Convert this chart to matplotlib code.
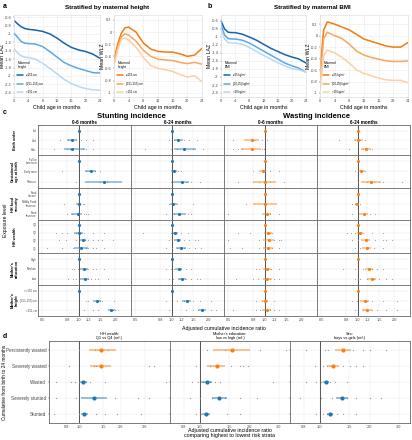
import matplotlib
matplotlib.use("Agg")
import matplotlib.pyplot as plt
from matplotlib.ticker import NullLocator

plt.rcParams['font.family'] = ['Liberation Sans', 'DejaVu Sans']

# ---- panel a/b: mean growth curves -------------------------------------
ages = [0, 1, 2, 3, 4, 6, 8, 10, 12, 14, 16, 18, 20, 22, 24]

height_labels = ['\u2265155 cm', '[151-155) cm', '<151 cm']
laz_height_tall = [-0.68, -0.76, -0.83, -0.87, -0.89, -0.91, -0.94, -1.0, -1.1, -1.22, -1.32, -1.38, -1.42, -1.48, -1.58]
laz_height_mid = [-0.98, -1.08, -1.18, -1.22, -1.23, -1.24, -1.3, -1.42, -1.55, -1.68, -1.76, -1.82, -1.87, -1.92, -1.93]
laz_height_short = [-1.35, -1.45, -1.52, -1.55, -1.56, -1.6, -1.7, -1.82, -1.95, -2.08, -2.18, -2.25, -2.3, -2.33, -2.34]
wlz_height_tall = [-0.45, -0.2, -0.02, 0.07, 0.08, 0.0, -0.18, -0.28, -0.32, -0.33, -0.33, -0.36, -0.4, -0.38, -0.27]
wlz_height_mid = [-0.5, -0.25, -0.08, -0.03, -0.05, -0.15, -0.3, -0.4, -0.45, -0.46, -0.47, -0.5, -0.52, -0.5, -0.53]
wlz_height_short = [-0.55, -0.3, -0.12, -0.1, -0.13, -0.25, -0.42, -0.55, -0.6, -0.62, -0.65, -0.7, -0.74, -0.72, -0.82]

bmi_labels = ['\u226525 kg/m\u00b2', '[20-25) kg/m\u00b2', '<20 kg/m\u00b2']
laz_bmi_hi = [-0.6, -0.8, -0.88, -0.89, -0.89, -0.93, -1.0, -1.08, -1.18, -1.28, -1.36, -1.44, -1.5, -1.55, -1.65]
laz_bmi_mid = [-0.7, -0.95, -1.04, -1.05, -1.05, -1.08, -1.15, -1.25, -1.35, -1.45, -1.55, -1.65, -1.72, -1.78, -1.88]
laz_bmi_lo = [-0.8, -1.05, -1.14, -1.15, -1.15, -1.18, -1.26, -1.36, -1.46, -1.55, -1.64, -1.72, -1.79, -1.82, -1.88]
wlz_bmi_hi = [-0.6, 0.1, 0.24, 0.22, 0.2, 0.15, 0.1, 0.02, -0.06, -0.1, -0.14, -0.18, -0.2, -0.2, -0.12]
wlz_bmi_mid = [-0.75, -0.05, 0.06, 0.03, 0.0, -0.05, -0.15, -0.27, -0.34, -0.38, -0.41, -0.44, -0.45, -0.45, -0.44]
wlz_bmi_lo = [-0.95, -0.35, -0.25, -0.28, -0.3, -0.38, -0.48, -0.6, -0.66, -0.7, -0.74, -0.77, -0.78, -0.78, -0.82]

# ---- panel c: exposure -> incidence ratios -------------------------------
group_names = ['Birth order', 'Gestational\nage at birth', 'HH food\nsecurity', 'HH wealth',
               "Mother's\neducation", "Mother's\nheight"]
group_levels = [['1st', '2nd', '3rd+'],
                ['Full or\nlate term', 'Early term', 'Preterm'],
                ['Food\nSecure', 'Mildly Food\nInsecure', 'Food\nInsecure'],
                ['Q4', 'Q3', 'Q2', 'Q1'],
                ['High', 'Medium', 'Low'],
                ['>=155 cm', '[151-155) cm', '<151 cm']]
column_titles = ['0-6 months', '6-24 months', '0-6 months', '6-24 months']
column_outcomes = ['Stunting', 'Stunting', 'Wasting', 'Wasting']

stunt06_est = [1.0, 0.88, 0.88, 1.0, 1.26, 1.62, 1.0, 1.0, 0.98, 1.0, 1.0, 1.08, 1.05, 1.0, 1.1, 1.12, 1.0, 1.41, 1.85]
stunt06_lo = [1.0, 0.8, 0.76, 1.0, 1.12, 1.12, 1.0, 0.95, 0.86, 1.0, 0.92, 1.0, 0.92, 1.0, 1.02, 1.02, 1.0, 1.31, 1.75]
stunt06_hi = [1.0, 0.97, 1.12, 1.0, 1.39, 2.29, 1.0, 1.05, 1.07, 1.0, 1.08, 1.15, 1.2, 1.0, 1.18, 1.22, 1.0, 1.53, 2.0]
stunt624_est = [1.0, 1.12, 1.26, 1.0, 1.04, 1.21, 1.0, 1.03, 1.15, 1.0, 1.06, 1.12, 1.18, 1.0, 1.14, 1.22, 1.0, 1.33, 1.78]
stunt624_lo = [1.0, 1.04, 1.04, 1.0, 0.98, 1.02, 1.0, 0.97, 1.0, 1.0, 1.0, 1.04, 1.08, 1.0, 1.06, 1.12, 1.0, 1.22, 1.65]
stunt624_hi = [1.0, 1.23, 1.58, 1.0, 1.1, 1.39, 1.0, 1.1, 1.3, 1.0, 1.12, 1.2, 1.3, 1.0, 1.22, 1.32, 1.0, 1.45, 1.92]
waste06_est = [1.0, 0.78, 0.78, 1.0, 0.96, 1.0, 1.0, 1.0, 1.04, 1.0, 1.06, 1.08, 1.06, 1.0, 1.05, 1.05, 1.0, 1.0, 1.04]
waste06_lo = [1.0, 0.67, 0.63, 1.0, 0.9, 0.8, 1.0, 0.8, 0.95, 1.0, 0.98, 0.97, 0.96, 1.0, 0.97, 0.96, 1.0, 0.94, 0.95]
waste06_hi = [1.0, 0.89, 0.93, 1.0, 1.03, 1.23, 1.0, 1.26, 1.12, 1.0, 1.15, 1.2, 1.17, 1.0, 1.13, 1.15, 1.0, 1.06, 1.13]
waste624_est = [1.0, 1.0, 1.17, 1.0, 1.06, 1.28, 1.0, 0.98, 1.12, 1.0, 1.04, 1.16, 1.18, 1.0, 1.24, 1.3, 1.0, 1.14, 1.19]
waste624_lo = [1.0, 0.93, 1.06, 1.0, 1.0, 1.06, 1.0, 0.95, 1.02, 1.0, 0.98, 1.06, 1.08, 1.0, 1.14, 1.18, 1.0, 1.05, 1.08]
waste624_hi = [1.0, 1.1, 1.28, 1.0, 1.14, 1.55, 1.0, 1.02, 1.22, 1.0, 1.1, 1.26, 1.28, 1.0, 1.34, 1.42, 1.0, 1.24, 1.3]

# cohort-specific estimates (grey points), one list per exposure level
stunt06_cohorts = [[], [0.7, 0.82, 0.86, 0.95, 1.05, 1.15, 1.3], [0.62, 0.8, 0.85, 1.08, 1.15, 1.3],
                   [], [0.72, 1.15, 1.22, 1.35, 1.5], [0.95, 1.5, 1.7],
                   [], [0.75, 1.02, 1.08, 1.1], [0.8, 0.88, 1.1, 1.15, 1.2],
                   [], [0.65, 0.72, 0.8, 0.95, 1.05, 1.1, 1.3, 1.6], [0.68, 0.78, 0.95, 1.12, 1.2, 1.3, 1.45, 1.55, 1.9],
                   [0.55, 0.72, 0.9, 1.0, 1.15, 1.2, 1.3, 1.4, 1.6],
                   [], [0.88, 0.92, 0.98, 1.15, 1.2, 1.3, 1.4, 1.6], [0.82, 0.9, 0.95, 1.18, 1.25, 1.35, 1.45, 1.75],
                   [], [1.15, 1.2, 1.5, 1.55, 1.95], [1.1, 1.3, 1.45, 1.9, 2.0, 2.1]]
stunt624_cohorts = [[], [0.95, 1.05, 1.25, 1.4, 1.6], [0.6, 0.98, 1.1, 1.5, 1.8],
                    [], [1.0, 1.12, 1.2], [0.98, 1.3, 1.45, 1.7],
                    [], [0.95, 1.1, 1.5], [0.9, 1.05, 1.35, 1.45],
                    [], [0.58, 0.98, 1.02, 1.2, 1.35], [0.95, 1.1, 1.25, 1.4, 1.55, 1.65],
                    [0.9, 1.0, 1.1, 1.25, 1.4, 1.55, 1.75],
                    [], [0.9, 0.98, 1.05, 1.2, 1.3, 1.45], [0.95, 1.02, 1.15, 1.3, 1.45, 1.6, 1.7],
                    [], [0.9, 1.1, 1.25, 1.5, 1.7, 2.1], [0.95, 1.3, 1.5, 1.65, 2.1, 2.3]]
waste06_cohorts = [[], [0.55, 0.78, 0.82, 0.95, 1.05], [0.55, 0.6, 0.65, 0.95, 0.98],
                   [], [0.8, 1.1, 1.3], [0.6, 0.8, 0.9, 1.1, 1.45],
                   [], [0.7], [0.5, 1.1, 1.3],
                   [], [0.6, 0.75, 1.05, 1.1, 1.15], [0.5, 0.9, 1.0, 1.2, 1.3, 1.35], [0.52, 0.65, 0.9, 1.0, 1.15, 1.3],
                   [], [0.85, 0.9, 1.0, 1.12, 1.3], [0.58, 0.8, 0.88, 1.0, 1.1, 1.2, 1.3],
                   [], [0.85, 0.95, 1.05, 1.2], [0.55, 0.85, 0.92, 1.1, 1.2, 1.3]]
waste624_cohorts = [[], [0.7, 0.95, 1.05, 1.15], [0.85, 1.1, 1.2, 1.3],
                    [], [0.95, 1.05, 1.15], [1.0, 1.2, 1.35, 1.6, 2.3],
                    [], [0.9, 0.95, 1.05], [0.9, 1.25, 1.4],
                    [], [0.82, 0.88, 0.95, 1.1, 1.3, 1.6], [0.9, 1.0, 1.2, 1.4, 1.6, 1.7, 1.9], [0.95, 1.05, 1.2, 1.35, 1.6],
                    [], [0.75, 0.95, 1.1, 1.3, 1.45, 1.6], [0.95, 1.05, 1.2, 1.35, 1.5, 1.7, 1.9],
                    [], [0.9, 0.98, 1.2, 1.3, 1.6, 2.1], [0.95, 1.1, 1.3, 1.45, 1.7, 2.1]]

# ---- panel d: highest vs lowest risk strata -------------------------------
d_outcomes = ['Persistently wasted', 'Severely wasted', 'Wasted', 'Severely stunted', 'Stunted']
d_titles = ['HH wealth:\nQ1 vs Q4 (ref.)', "Mother's education:\nlow vs high (ref.)", 'Sex:\nboys vs girls (ref.)']
wealth_est = [1.45, 1.43, 1.07, 1.28, 1.09]
wealth_lo = [1.18, 1.2, 1.0, 1.03, 1.02]
wealth_hi = [1.85, 1.7, 1.13, 1.6, 1.16]
educ_est = [1.56, 1.27, 1.1, 1.3, 1.09]
educ_lo = [1.2, 1.1, 1.02, 1.18, 1.03]
educ_hi = [2.0, 1.41, 1.18, 1.45, 1.15]
sex_est = [1.38, 1.2, 1.09, 1.36, 1.15]
sex_lo = [1.23, 1.1, 1.04, 1.25, 1.1]
sex_hi = [1.54, 1.3, 1.14, 1.47, 1.2]
wealth_cohorts = [[1.0, 1.3, 1.62], [0.84, 1.28, 1.33, 3.25, 3.5],
                  [0.67, 0.87, 0.93, 1.0, 1.12, 1.19, 1.54, 4.3],
                  [0.68, 0.94, 1.26, 1.83, 2.7, 3.25], [0.65, 1.0, 1.06, 1.33, 1.54, 1.9, 2.8]]
educ_cohorts = [[1.1, 1.41, 2.3, 3.33], [0.95, 1.15, 1.55, 1.74, 1.83, 1.96],
                [0.9, 0.98, 1.05, 1.15, 1.23, 1.32, 2.77],
                [0.87, 1.0, 1.18, 1.41, 1.74, 2.2], [0.95, 1.02, 1.1, 1.45, 1.74]]
sex_cohorts = [[0.83, 1.07, 1.12, 1.59, 1.83, 2.0, 2.52], [0.93, 1.05, 1.1, 1.38, 1.52, 1.66, 1.83],
               [0.83, 0.95, 1.02, 1.07, 1.15, 1.23, 1.45],
               [0.76, 1.02, 1.18, 1.45, 1.66, 2.0, 2.35], [0.95, 1.05, 1.1, 1.18, 1.26, 1.38, 1.66]]

BLUES = ['#1764ab', '#5aa8e6', '#b5daf5']
ORANGES = ['#f57a0c', '#fba45c', '#fdcfa3']
BLUE, ORANGE, GREY = '#1f77b4', '#ff7f0e', '#9a9a9a'

W, H = 412, 440
fig = plt.figure(figsize=(W / 100, H / 100), dpi=100)


def px_axes(x0, y0, x1, y1):
    return fig.add_axes([x0 / W, 1 - y1 / H, (x1 - x0) / W, (y1 - y0) / H])


def px_text(x, y, s, **kw):
    fig.text(x / W, 1 - y / H, s, **kw)


def growth_panel(ax, series, colors, labels, ylabel, ylim, yticks, legend_title):
    for vals, c, lab in zip(series, colors, labels):
        ax.plot(ages, vals, color=c, lw=1.1, label=lab, solid_capstyle='round')
    ax.set_xlim(0, 24)
    ax.set_xticks(range(0, 25, 4))
    ax.set_ylim(*ylim)
    ax.set_yticks(yticks, [f'{t:g}' for t in yticks])
    ax.grid(color='#ebebeb', lw=0.4)
    ax.set_axisbelow(True)
    for s in ax.spines.values():
        s.set_color('#d9d9d9')
        s.set_linewidth(0.4)
    ax.tick_params(labelsize=2.8, length=1, width=0.3, pad=0.8, colors='#444')
    ax.set_xlabel('Child age in months', fontsize=3.8, labelpad=1)
    ax.set_ylabel(ylabel, fontsize=3.8)
    ax.yaxis.set_label_coords(-0.105, 0.5)
    leg = ax.legend(title=legend_title, loc='lower left', fontsize=2, title_fontsize=2.3,
                    frameon=False, handlelength=2.2, labelspacing=1.5, borderaxespad=0.8)
    leg._legend_box.align = 'left'


# panel a
px_text(3, 6, 'a', fontsize=5, fontweight='bold', va='center')
px_text(107, 8, 'Stratified by maternal height', fontsize=4.5, fontweight='bold', ha='center', va='center')
ax = px_axes(14, 15, 100, 97)
growth_panel(ax, [laz_height_tall, laz_height_mid, laz_height_short], BLUES, height_labels,
             'Mean LAZ', (-2.5, -0.55), [-0.6, -0.8, -1, -1.2, -1.4, -1.6, -1.8, -2, -2.2, -2.4], 'Maternal\nheight')
ax = px_axes(114, 15, 202, 97)
growth_panel(ax, [wlz_height_tall, wlz_height_mid, wlz_height_short], ORANGES, height_labels,
             'Mean WLZ', (-1.07, 0.28), [0.2, 0, -0.2, -0.4, -0.6, -0.8, -1], 'Maternal\nheight')

# panel b
px_text(208, 6, 'b', fontsize=5, fontweight='bold', va='center')
px_text(312, 8, 'Stratified by maternal BMI', fontsize=4.5, fontweight='bold', ha='center', va='center')
ax = px_axes(221, 15, 306, 97)
growth_panel(ax, [laz_bmi_hi, laz_bmi_mid, laz_bmi_lo], BLUES, bmi_labels,
             'Mean LAZ', (-2.5, -0.45), [-0.6, -0.8, -1, -1.2, -1.4, -1.6, -1.8, -2, -2.2, -2.4], 'Maternal\nBMI')
ax = px_axes(320, 15, 408, 97)
growth_panel(ax, [wlz_bmi_hi, wlz_bmi_mid, wlz_bmi_lo], ORANGES, bmi_labels,
             'Mean WLZ', (-1.07, 0.36), [0.2, 0, -0.2, -0.4, -0.6, -0.8, -1], 'Maternal\nBMI')

# panel c
px_text(3, 113, 'c', fontsize=5, fontweight='bold', va='center')
px_text(131, 116, 'Stunting incidence', fontsize=5.5, fontweight='bold', ha='center', va='center')
px_text(317, 116, 'Wasting incidence', fontsize=5.5, fontweight='bold', ha='center', va='center')

c_cols = [(stunt06_est, stunt06_lo, stunt06_hi, stunt06_cohorts),
          (stunt624_est, stunt624_lo, stunt624_hi, stunt624_cohorts),
          (waste06_est, waste06_lo, waste06_hi, waste06_cohorts),
          (waste624_est, waste624_lo, waste624_hi, waste624_cohorts)]
col_edges = [38, 131, 224, 317, 410]
group_edges = [125, 155, 188, 220, 253, 285, 316]
c_ticks = [0.5, 0.8, 1.0, 1.2, 1.5, 2.0]

for j, (est, lo, hi, cohorts) in enumerate(c_cols):
    color = BLUE if column_outcomes[j] == 'Stunting' else ORANGE
    px_text((col_edges[j] + col_edges[j + 1]) / 2, 122, column_titles[j], fontsize=3.3,
            fontweight='bold', ha='center', va='center')
    start = 0
    for g, levels in enumerate(group_levels):
        n = len(levels)
        ax = px_axes(col_edges[j], group_edges[g], col_edges[j + 1], group_edges[g + 1])
        ax.set_xscale('log')
        ax.set_xlim(0.46, 2.7)
        ax.set_ylim(n - 0.4, -0.6)
        for k in range(n):
            i = start + k
            ax.scatter(cohorts[i], [k] * len(cohorts[i]), s=0.6, color=GREY, lw=0, zorder=2)
            ax.plot([lo[i], hi[i]], [k, k], color=color, alpha=0.45, lw=1.3, zorder=3,
                    solid_capstyle='butt')
            ax.scatter([est[i]], [k], s=5, color=color, lw=0, zorder=4)
        start += n
        ax.axvline(1.0, color='#555555', lw=0.7, zorder=1)
        ax.set_xticks(c_ticks, [f'{t:.1f}' for t in c_ticks])
        ax.xaxis.set_minor_locator(NullLocator())
        ax.set_yticks(range(n), levels if j == 0 else [''] * n)
        ax.grid(color='#e8e8e8', lw=0.35)
        ax.set_axisbelow(True)
        ax.tick_params(axis='x', labelsize=2.8, length=0, pad=1.5, colors='#444',
                       labelbottom=(g == len(group_levels) - 1))
        ax.tick_params(axis='y', labelsize=2.0, length=0, pad=1, colors='#444')
        for lab in ax.get_yticklabels():
            lab.set_linespacing(0.9)
        for s in ax.spines.values():
            s.set_color('#666666')
            s.set_linewidth(0.6)
        if j == 0:
            px_text(15, (group_edges[g] + group_edges[g + 1]) / 2, group_names[g], fontsize=2.8,
                    fontweight='bold', rotation=90, ha='center', va='center', linespacing=0.95)

px_text(6, 220, 'Exposure level', fontsize=3.6, rotation=90, ha='center', va='center')
px_text(224, 328, 'Adjusted cumulative incidence ratio', fontsize=3.8, ha='center', va='center')

# panel d
px_text(3, 336, 'd', fontsize=5, fontweight='bold', va='center')
d_cols = [(wealth_est, wealth_lo, wealth_hi, wealth_cohorts, (0.6, 4.6)),
          (educ_est, educ_lo, educ_hi, educ_cohorts, (0.66, 3.5)),
          (sex_est, sex_lo, sex_hi, sex_cohorts, (0.66, 3.5))]
d_edges = [49, 170, 290, 410]
d_ticks = [0.8, 1.0, 1.5, 2.0, 3.0]
for j, (est, lo, hi, cohorts, xlim) in enumerate(d_cols):
    ax = px_axes(d_edges[j], 341, d_edges[j + 1], 423)
    ax.set_xscale('log')
    ax.set_xlim(*xlim)
    ax.set_ylim(len(d_outcomes) - 0.4, -0.6)
    for k, name in enumerate(d_outcomes):
        color = ORANGE if 'wasted' in name else BLUE
        ax.scatter(cohorts[k], [k] * len(cohorts[k]), s=0.8, color=GREY, lw=0, zorder=2)
        ax.plot([lo[k], hi[k]], [k, k], color=color, alpha=0.5, lw=1.3, zorder=3, solid_capstyle='butt')
        ax.scatter([est[k]], [k], s=9, color=color, lw=0, zorder=4)
    ax.axvline(1.0, color='#555555', lw=0.7, zorder=1)
    ax.set_xticks(d_ticks, [f'{t:.1f}' for t in d_ticks])
    ax.xaxis.set_minor_locator(NullLocator())
    ax.set_yticks(range(len(d_outcomes)), d_outcomes if j == 0 else [''] * len(d_outcomes))
    ax.grid(color='#e8e8e8', lw=0.35)
    ax.set_axisbelow(True)
    ax.tick_params(axis='x', labelsize=2.8, length=0, pad=1.5, colors='#444')
    ax.tick_params(axis='y', labelsize=3.3, length=1, width=0.3, pad=1, colors='#444')
    for s in ax.spines.values():
        s.set_color('#666666')
        s.set_linewidth(0.6)
    px_text((d_edges[j] + d_edges[j + 1]) / 2, 336, d_titles[j], fontsize=2.8, ha='center',
            va='center', linespacing=1.0)

px_text(5, 382, 'Cumulative from birth to 24 months', fontsize=3.4, rotation=90, ha='center', va='center')
px_text(230, 433, 'Adjusted cumulative incidence ratio\ncomparing highest to lowest risk strata',
        fontsize=3.8, ha='center', va='center', linespacing=1.0)

fig.savefig('out.png', dpi=100)
